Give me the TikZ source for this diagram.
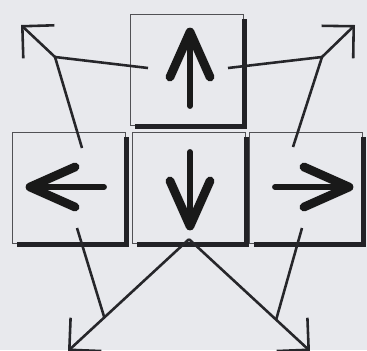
\documentclass[tikz,border=0pt]{standalone}
\usetikzlibrary{positioning,calc,arrows.meta}
\definecolor{paper}{RGB}{232,233,237}
\definecolor{ink}{RGB}{38,38,42}

\tikzset{keyarrow/.pic={
  \draw[glyph] (0,-38) -- (0,36);
  \draw[glyph,line width=7.5pt] (-20,7) -- (0,-38) -- (20,7);
}}

\begin{document}
\begin{tikzpicture}[x=0.03cm,y=-0.03cm,
  keycap/.style={draw=ink!80,line width=1.4pt,fill=paper,minimum width=3.38cm,minimum height=3.32cm,inner sep=0pt},
  keyedge/.style={draw=ink!90!black,line width=4pt},
  conn/.style={draw=ink,line width=2.2pt},
  pointer/.style={conn,-{Straight Barb[length=0.68cm,width=1.36cm]}},
  glyph/.style={draw=black!90,line width=5pt,line cap=round,line join=round}]
\useasboundingbox (0,0) rectangle (367,350);
\clip (0,0) rectangle (367,350);
\fill[paper] (0,0) rectangle (367,350);

% the four keys
\node[keycap] (upkey) at (187,70) {};
\node[keycap] (leftkey) at (69,188) {};
\node[keycap] (downkey) at (189,188) {};
\node[keycap] (rightkey) at (306,188) {};
\foreach \k in {upkey,leftkey,downkey,rightkey}
  \draw[keyedge] ([xshift=0.15cm]\k.south west) -- (\k.south east) -- ([yshift=-0.15cm]\k.north east);

\pic at ($(upkey.center)+(3,0)$) {keyarrow};
\pic[rotate=90] at ($(leftkey.center)+(-1,-1)$) {keyarrow};
\pic[rotate=180] at ($(downkey.center)+(1,0)$) {keyarrow};
\pic[rotate=-90] at ($(rightkey.center)+(5,-1)$) {keyarrow};

% ends of the pointers
\coordinate (ulA) at (148,68);
\coordinate (ulB) at (82,148);
\coordinate (ulJ) at (55,57);
\coordinate (ulT) at (21,25);
\coordinate (urA) at (228,68);
\coordinate (urB) at (293,147);
\coordinate (urJ) at (322,57);
\coordinate (urT) at (355,25);
\coordinate (dk) at ([yshift=0.15cm]downkey.south);
\coordinate (llA) at (77,228);
\coordinate (llT) at (68,351);
\coordinate (llJ) at ($(dk)!0.7!(llT)$);
\coordinate (lrA) at (302,228);
\coordinate (lrT) at (310,351);
\coordinate (lrJ) at ($(dk)!0.72!(lrT)$);

\draw[conn] (ulA) -- (ulJ);
\draw[conn] (ulB) -- (ulJ);
\draw[pointer] (ulJ) -- (ulT);
\draw[conn] (urA) -- (urJ);
\draw[conn] (urB) -- (urJ);
\draw[pointer] (urJ) -- (urT);
\draw[pointer] (dk) -- (llT);
\draw[conn] (llA) -- (llJ);
\draw[pointer] (dk) -- (lrT);
\draw[conn] (lrA) -- (lrJ);
\end{tikzpicture}
\end{document}
